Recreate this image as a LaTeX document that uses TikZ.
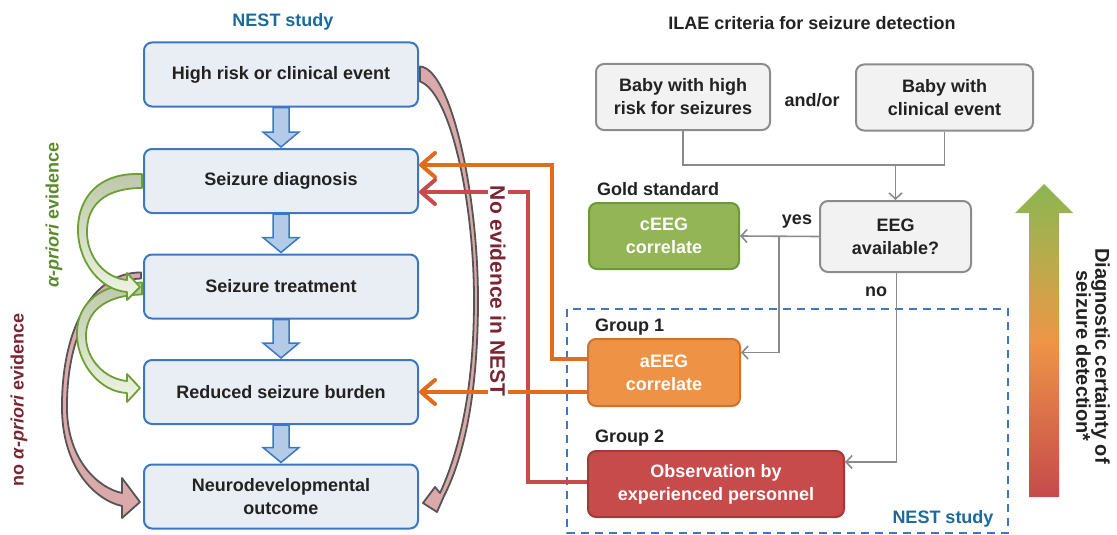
\documentclass[tikz,border=0pt]{standalone}
\usepackage{fontspec}
\setmainfont{Liberation Sans}
\usetikzlibrary{arrows.meta,calc}
\definecolor{txt}{HTML}{222222}
\definecolor{lblue}{HTML}{3B78C1}
\definecolor{lfill}{HTML}{E9EEF5}
\definecolor{afill}{HTML}{B3CBE6}
\definecolor{nestblue}{HTML}{1B6A9C}
\definecolor{gbord}{HTML}{8C8C8C}
\definecolor{gfill}{HTML}{F2F2F2}
\definecolor{gline}{HTML}{8A8A8A}
\definecolor{cgreen}{HTML}{93B556}
\definecolor{cgreenb}{HTML}{6E963A}
\definecolor{aor}{HTML}{EE9246}
\definecolor{aorb}{HTML}{CB7431}
\definecolor{ored}{HTML}{C84B4B}
\definecolor{oredb}{HTML}{A23A3A}
\definecolor{lineor}{HTML}{E36B1C}
\definecolor{linered}{HTML}{C84B4B}
\definecolor{darkred}{HTML}{7B2432}
\definecolor{evgreen}{HTML}{5B8A2C}
\definecolor{gcurve}{HTML}{6DA033}
\definecolor{gband1}{HTML}{BCC7AA}
\definecolor{gband2}{HTML}{EEF5E4}
\definecolor{pband}{HTML}{DBA9A9}
\definecolor{pbord}{HTML}{555555}
\definecolor{sgreen}{HTML}{8CB552}
\definecolor{skhaki}{HTML}{BDAA4C}
\definecolor{sorange}{HTML}{EE9547}
\definecolor{sred}{HTML}{C54A4B}
\pgfdeclareverticalshading{certshade}{100bp}{color(0bp)=(sred); color(25bp)=(sred); color(50bp)=(sorange); color(62bp)=(skhaki); color(75bp)=(sgreen); color(100bp)=(sgreen)}
\begin{document}
\begin{tikzpicture}[x=1pt,y=-1pt,
  every node/.style={font=\fontsize{18}{23}\selectfont\bfseries, inner sep=0pt, text=txt},
  lbox/.style={draw=lblue, fill=lfill, line width=2, rounded corners=8, minimum width=274, minimum height=64, align=center},
  gbox/.style={draw=gbord, fill=gfill, line width=2, rounded corners=8, align=center},
  cbox/.style={draw=cgreenb, fill=cgreen, line width=2, rounded corners=8, align=center, text=white},
  abox/.style={draw=aorb, fill=aor, line width=2, rounded corners=8, align=center, text=white},
  obox/.style={draw=oredb, fill=ored, line width=2, rounded corners=8, align=center, text=white},
  barrow/.style={draw=lblue, fill=afill, line width=1.5, line join=miter},
  garrow/.style={draw=gcurve, line width=1.8, line join=round, top color=gband1, bottom color=gband2},
  parrow/.style={draw=pbord, fill=pband, line width=1.8, line join=round},
  oarr/.style={draw=lineor, line width=4, -{Straight Barb[length=14pt,width=24pt,round]}},
  rarr/.style={draw=linered, line width=4, -{Straight Barb[length=14pt,width=24pt,round]}},
  garr/.style={draw=gline, line width=1.6, -{Straight Barb[length=6pt,width=13pt]}},
  gl/.style={draw=gline, line width=1.6},
  dashbox/.style={draw=lblue, line width=1.8, dash pattern=on 8pt off 6pt}
]
\useasboundingbox (0,0) rectangle (1117,535);

% left boxes
\node[lbox] (b1) at (281,74.5) {High risk or clinical event};
\node[lbox] (b2) at (281,181) {Seizure diagnosis};
\node[lbox] (b3) at (281,286.5) {Seizure treatment};
\node[lbox] (b4) at (281,392) {Reduced seizure burden};
\node[lbox] (b5) at (281,496.5) {Neurodevelopmental\\outcome};

% left curved arrows
\path[parrow] ($(b3.west)+(-2,-14)$) .. controls (92,272) and (61,330) .. (62,410) .. controls (63,468) and (95,500) .. (122,506) -- (122,518) -- ($(b5.west)+(-3,5.5)$) -- (122,478) -- (122,493) .. controls (98,488) and (68,460) .. (67,410) .. controls (66,335) and (95,280) .. ($(b3.west)+(-2,-8)$) -- cycle;
\path[garrow] ($(b3.west)+(-1,-4)$) .. controls (92,284) and (76,310) .. (77,336) .. controls (78,364) and (100,392) .. (127,393) -- (127,402) -- ($(b4.west)+(-3,-4)$) -- (127,374) -- (127,381) .. controls (105,379) and (87,360) .. (86,338) .. controls (85,312) and (105,295) .. ($(b3.west)+(-1,8)$) -- cycle;
\path[garrow] ($(b2.west)+(-1,-7)$) .. controls (92,172) and (77,205) .. (78,232) .. controls (79,262) and (100,290) .. (127,292) -- (127,300) -- ($(b3.west)+(-3,0.5)$) -- (127,273) -- (127,280) .. controls (105,278) and (88,258) .. (87,234) .. controls (86,205) and (105,188) .. ($(b2.west)+(-1,7)$) -- cycle;

% right curved arrow
\path[parrow] ($(b1.east)+(1,-8)$) .. controls (450,68) and (478,190) .. (478,300) .. controls (478,390) and (465,455) .. (444,496) -- (437,512) -- ($(b5.east)+(4,6.5)$) -- (435,487) -- (440,493) .. controls (459,452) and (474,390) .. (474,300) .. controls (474,200) and (450,92) .. ($(b1.east)+(1,7)$) -- cycle;

% block arrows
\newcommand\blockarr[2]{%
 \draw[barrow] ($(#1.south)+(-8,0)$) -- ($(#2.north)+(-8,-16)$) -- ($(#2.north)+(-18,-16)$) -- ($(#2.north)+(0,-1)$) -- ($(#2.north)+(18,-16)$) -- ($(#2.north)+(8,-16)$) -- ($(#1.south)+(8,0)$) -- cycle;}
\blockarr{b1}{b2}
\blockarr{b2}{b3}
\blockarr{b3}{b4}
\blockarr{b4}{b5}

% labels left
\node[text=nestblue] (t1) at (283,22) {NEST study};
\node[rotate=90, text=evgreen] (ev1) at (54,215) {{\itshape α-priori} evidence};
\node[rotate=90, text=darkred] (ev2) at (19,400) {no {\itshape α-priori} evidence};

% right side
\draw[dashbox] (567,309) rectangle (1008,533);
\node (t2) at (812,23) {ILAE criteria for seizure detection};
\node[gbox, minimum width=174, minimum height=66] (ba) at (683,97) {Baby with high\\risk for seizures};
\node (andor) at (812,100) {and/or};
\node[gbox, minimum width=177, minimum height=66] (bb) at (944.5,97.5) {Baby with\\clinical event};
\node[gbox, minimum width=151, minimum height=71] (eeg) at (895.5,236.5) {EEG\\available?};
\node[anchor=west] (gold) at (597,189) {Gold standard};
\node[cbox, minimum width=150, minimum height=66] (ceeg) at (664,236) {cEEG\\correlate};
\node[anchor=west] (g1) at (595,327) {Group 1};
\node[abox, minimum width=152, minimum height=67] (aeeg) at (664,372.5) {aEEG\\correlate};
\node[anchor=west] (g2) at (595,438) {Group 2};
\node[obox, minimum width=256, minimum height=66] (obs) at (716,484) {Observation by\\experienced personnel};
\node[text=nestblue] (t3) at (943,519) {NEST study};
\node (yes) at (797,222) {yes};
\node (no) at (876,292) {no};

\draw[gl] (ba.south) -- ++(0,34) coordinate (m1) -| (bb.south);
\draw[garr] (eeg.north |- m1) -- (eeg.north);
\draw[garr] (eeg.west) -- (ceeg.east);
\coordinate (yb) at ($(eeg.west)+(-40,0)$);
\draw[garr] (yb) |- ($(aeeg.east)+(0,-20)$);
\draw[garr] ($(eeg.south)+(1,0)$) |- ($(obs.east)+(0,-22)$);

% orange / red connectors
\draw[oarr] ($(aeeg.west)+(0,-14)$) -- ++(-35,0) |- ($(b2.east)+(0,-16)$);
\draw[rarr] ($(obs.west)+(0,-2)$) -- ++(-59,0) |- ($(b2.east)+(0,11)$);
\draw[oarr] (b4.east -| aeeg.west) -- (b4.east);

\node[rotate=-90, fill=white, inner sep=2pt, text=darkred, font=\fontsize{21}{24}\selectfont\bfseries] (noev) at (498,291) {No evidence in NEST};

% certainty arrow
\shade[shading=certshade] (1029,497) -- (1029,213) -- (1015,213) -- (1044,184) -- (1073,213) -- (1059,213) -- (1059,497) -- cycle;
\node[rotate=-90, align=center, font=\fontsize{20}{19}\selectfont\bfseries] (dc) at (1093,356) {Diagnostic certainty of\\seizure detection*};
\end{tikzpicture}
\end{document}
